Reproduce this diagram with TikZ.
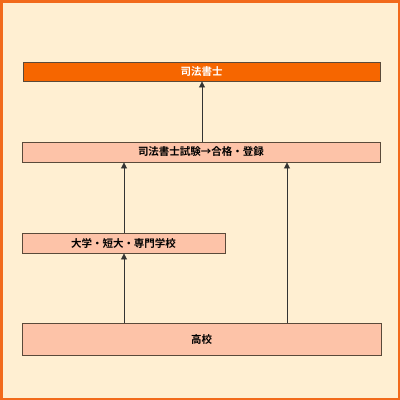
\documentclass[tikz,border=0pt]{standalone}
\usepackage{fontspec}
\setmainfont{Noto Sans CJK JP}[BoldFont={Noto Sans CJK JP Bold}]
\usetikzlibrary{arrows.meta}
\definecolor{bgc}{HTML}{FFEFD2}
\definecolor{framec}{HTML}{F26A1B}
\definecolor{topc}{HTML}{F66600}
\definecolor{boxc}{HTML}{FDC3A8}
\definecolor{edgec}{HTML}{5A4A3A}
\tikzset{
  box/.style={draw=edgec, line width=0.9pt, fill=boxc, inner sep=0pt, font=\fontsize{10.5}{12}\selectfont\bfseries, text=black},
  topbox/.style={box, fill=topc, text=white},
  arr/.style={draw=black!80, line width=0.8pt, -{Triangle[width=6pt,length=6pt]}}
}
\begin{document}
\begin{tikzpicture}[x=1pt,y=-1pt]
\useasboundingbox (0,0) rectangle (400,400);
\fill[framec] (0,0) rectangle (400,400);
\fill[bgc] (2.5,2.5) rectangle (397.5,397.5);
\node[topbox, minimum width=357pt, minimum height=19pt] (shihou) at (201.5,71.5) {司法書士};
\node[box, minimum width=358pt, minimum height=20pt] (shiken) at (201,152) {司法書士試験→合格・登録};
\node[box, minimum width=203pt, minimum height=20pt] (daigaku) at (123.5,243) {大学・短大・専門学校};
\node[box, minimum width=359pt, minimum height=32pt] (koukou) at (201.5,339.5) {高校};
\draw[arr] (shiken.north -| 202,0) -- (shihou.south -| 202,0);
\draw[arr] (daigaku.north -| 124,0) -- (shiken.south -| 124,0);
\draw[arr] (koukou.north -| 124,0) -- (daigaku.south -| 124,0);
\draw[arr] (koukou.north -| 287,0) -- (shiken.south -| 287,0);
\end{tikzpicture}
\end{document}
